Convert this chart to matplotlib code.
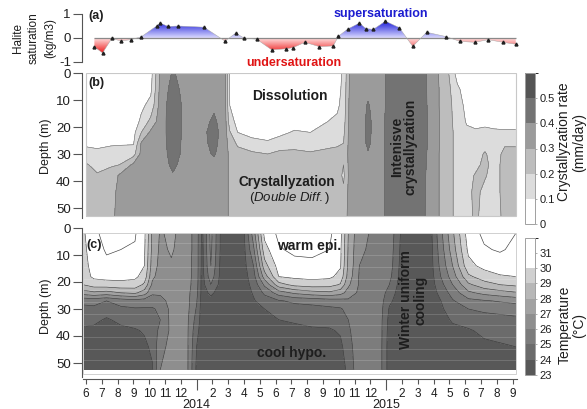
import numpy as np
import matplotlib
matplotlib.use("Agg")
import matplotlib.pyplot as plt
from matplotlib.colors import ListedColormap, BoundaryNorm
from matplotlib.path import Path
from matplotlib.patches import Rectangle

plt.rcParams['font.family'] = ['Liberation Sans', 'DejaVu Sans']
plt.rcParams['mathtext.fontset'] = 'custom'
plt.rcParams['mathtext.it'] = 'Liberation Sans:italic'
plt.rcParams['mathtext.rm'] = 'Liberation Sans'

# ---------------- data (month index: 0 = June 2013) ----------------
sat_month = [0.53, 1.05, 1.63, 2.2, 2.83, 3.5, 4.47, 4.7, 5.2, 5.84, 7.47, 8.8, 9.47,
             10.0, 10.8, 11.75, 12.66, 13.1, 13.86, 14.77, 15.65, 15.97, 16.56, 17.3,
             17.72, 18.19, 18.95, 19.83, 20.68, 21.56, 22.77, 23.67, 24.6, 25.46, 26.4, 27.2]
sat_value = [-0.37, -0.62, -0.02, -0.12, -0.07, 0.05, 0.5, 0.62, 0.48, 0.5, 0.45, -0.13, 0.2,
             0.0, -0.05, -0.49, -0.45, -0.4, -0.18, -0.36, -0.33, 0.07, 0.37, 0.62,
             0.39, 0.36, 0.7, 0.43, -0.35, 0.24, 0.06, -0.14, -0.18, -0.07, -0.18, -0.26]

# crystallization rate (mm/day): one profile per time
b_depth = [0, 6, 12, 18, 22, 26, 30, 34, 38, 44, 53]
b_month = [0.0, 0.7, 1.6, 2.1, 3.0, 3.5, 4.1, 4.7, 5.5, 6.4, 7.2, 8.1, 8.8, 9.1, 9.6,
           10.5, 11.5, 12.3, 13.2, 14.2, 15.3, 15.9, 16.3, 16.7, 17.4, 17.85, 18.3, 18.8,
           19.2, 20.3, 21.2, 21.8, 22.8, 23.5, 24.1, 24.65, 25.25, 25.8, 26.5, 27.2]
b_rate = [
    [0.02, 0.02, 0.03, 0.04, 0.05, 0.08, 0.14, 0.21, 0.24, 0.25, 0.25],
    [0.02, 0.02, 0.03, 0.04, 0.05, 0.08, 0.12, 0.17, 0.21, 0.25, 0.25],
    [0.02, 0.02, 0.03, 0.04, 0.05, 0.09, 0.13, 0.19, 0.24, 0.26, 0.27],
    [0.02, 0.02, 0.03, 0.04, 0.06, 0.09, 0.14, 0.20, 0.31, 0.33, 0.34],
    [0.03, 0.03, 0.04, 0.05, 0.07, 0.09, 0.16, 0.32, 0.34, 0.35, 0.35],
    [0.04, 0.05, 0.08, 0.12, 0.20, 0.31, 0.33, 0.34, 0.35, 0.35, 0.35],
    [0.06, 0.08, 0.13, 0.23, 0.32, 0.34, 0.35, 0.35, 0.35, 0.35, 0.35],
    [0.32, 0.33, 0.34, 0.35, 0.35, 0.35, 0.35, 0.35, 0.35, 0.35, 0.35],
    [0.41, 0.44, 0.46, 0.46, 0.46, 0.45, 0.44, 0.42, 0.39, 0.36, 0.35],
    [0.35, 0.35, 0.36, 0.36, 0.36, 0.36, 0.36, 0.35, 0.35, 0.35, 0.35],
    [0.34, 0.35, 0.35, 0.35, 0.36, 0.36, 0.36, 0.35, 0.35, 0.35, 0.35],
    [0.35, 0.36, 0.38, 0.42, 0.44, 0.43, 0.41, 0.37, 0.36, 0.35, 0.35],
    [0.33, 0.33, 0.33, 0.34, 0.34, 0.34, 0.34, 0.34, 0.34, 0.34, 0.34],
    [0.08, 0.09, 0.10, 0.14, 0.21, 0.26, 0.28, 0.28, 0.28, 0.28, 0.28],
    [0.03, 0.04, 0.05, 0.07, 0.10, 0.18, 0.24, 0.25, 0.26, 0.26, 0.26],
    [0.03, 0.03, 0.04, 0.05, 0.07, 0.13, 0.22, 0.24, 0.25, 0.26, 0.26],
    [0.03, 0.03, 0.04, 0.05, 0.07, 0.11, 0.20, 0.23, 0.24, 0.25, 0.25],
    [0.03, 0.03, 0.04, 0.05, 0.08, 0.14, 0.23, 0.24, 0.25, 0.25, 0.25],
    [0.03, 0.03, 0.04, 0.06, 0.11, 0.17, 0.22, 0.24, 0.25, 0.25, 0.25],
    [0.03, 0.03, 0.04, 0.07, 0.10, 0.16, 0.21, 0.24, 0.25, 0.25, 0.25],
    [0.03, 0.03, 0.05, 0.10, 0.14, 0.18, 0.22, 0.24, 0.25, 0.25, 0.25],
    [0.05, 0.06, 0.08, 0.12, 0.16, 0.19, 0.22, 0.24, 0.25, 0.25, 0.25],
    [0.12, 0.13, 0.14, 0.16, 0.18, 0.20, 0.22, 0.20, 0.18, 0.22, 0.25],
    [0.31, 0.32, 0.33, 0.33, 0.34, 0.34, 0.34, 0.34, 0.34, 0.34, 0.34],
    [0.35, 0.35, 0.35, 0.35, 0.35, 0.35, 0.35, 0.35, 0.35, 0.35, 0.35],
    [0.35, 0.37, 0.41, 0.43, 0.43, 0.42, 0.39, 0.36, 0.35, 0.35, 0.35],
    [0.36, 0.36, 0.36, 0.36, 0.36, 0.36, 0.36, 0.36, 0.36, 0.36, 0.36],
    [0.37, 0.37, 0.37, 0.38, 0.38, 0.38, 0.38, 0.38, 0.38, 0.38, 0.38],
    [0.45, 0.45, 0.45, 0.46, 0.46, 0.46, 0.46, 0.46, 0.46, 0.46, 0.46],
    [0.48, 0.48, 0.48, 0.48, 0.48, 0.48, 0.48, 0.48, 0.48, 0.48, 0.47],
    [0.46, 0.46, 0.47, 0.47, 0.47, 0.47, 0.46, 0.45, 0.44, 0.44, 0.43],
    [0.36, 0.36, 0.36, 0.37, 0.37, 0.37, 0.36, 0.36, 0.36, 0.36, 0.36],
    [0.24, 0.25, 0.25, 0.25, 0.25, 0.25, 0.25, 0.25, 0.25, 0.25, 0.25],
    [0.06, 0.12, 0.15, 0.16, 0.17, 0.17, 0.17, 0.17, 0.17, 0.17, 0.17],
    [0.04, 0.05, 0.07, 0.09, 0.12, 0.14, 0.15, 0.16, 0.16, 0.16, 0.16],
    [0.03, 0.04, 0.06, 0.08, 0.11, 0.15, 0.16, 0.17, 0.21, 0.23, 0.22],
    [0.03, 0.04, 0.06, 0.08, 0.12, 0.16, 0.21, 0.23, 0.21, 0.17, 0.16],
    [0.03, 0.04, 0.06, 0.08, 0.11, 0.15, 0.16, 0.16, 0.16, 0.16, 0.16],
    [0.03, 0.04, 0.05, 0.07, 0.11, 0.19, 0.22, 0.23, 0.23, 0.23, 0.22],
    [0.03, 0.04, 0.05, 0.07, 0.11, 0.19, 0.22, 0.23, 0.23, 0.23, 0.22],
]

# temperature (deg C): one profile per time
c_depth = [2, 8, 14, 18, 21, 24, 27, 30, 34, 38, 44, 52.5]
c_month = [-0.2, 0.5, 1.3, 2.2, 3.1, 3.7, 4.2, 4.7, 5.4, 6.4, 7.0, 7.35, 7.9, 8.6, 10.0,
           10.6, 11.3, 12.2, 13.2, 14.3, 15.4, 16.1, 16.6, 17.3, 18.5, 19.2, 19.9, 21.8,
           22.3, 23.2, 24.2, 25.2, 26.2, 27.2]
c_temp = [
    [29.8, 29.7, 29.6, 29.5, 29.0, 27.5, 25.2, 24.8, 24.3, 23.8, 23.6, 23.5],
    [30.8, 30.6, 30.4, 30.2, 29.5, 27.8, 25.3, 24.8, 24.2, 23.8, 23.6, 23.5],
    [31.3, 31.1, 30.8, 30.3, 29.6, 27.6, 25.0, 24.4, 23.9, 23.7, 23.6, 23.5],
    [31.3, 31.0, 30.9, 30.3, 29.7, 28.0, 25.4, 24.8, 24.2, 23.8, 23.6, 23.5],
    [31.1, 30.9, 30.6, 30.2, 29.6, 28.2, 25.6, 24.9, 24.4, 23.9, 23.6, 23.5],
    [30.2, 30.1, 30.0, 29.6, 28.8, 27.5, 25.5, 24.9, 24.5, 24.1, 23.8, 23.6],
    [27.8, 27.7, 27.5, 27.2, 26.8, 26.2, 25.4, 24.9, 24.6, 24.4, 24.2, 23.9],
    [26.9, 26.8, 26.7, 26.6, 26.5, 26.2, 25.6, 25.2, 25.0, 25.3, 25.8, 26.0],
    [27.2, 27.1, 26.9, 26.7, 26.6, 26.5, 26.4, 26.3, 26.3, 26.2, 26.2, 26.2],
    [26.5, 26.5, 26.4, 26.4, 26.4, 26.3, 26.3, 26.3, 26.2, 26.2, 26.2, 26.2],
    [25.5, 25.5, 25.5, 25.5, 25.4, 25.3, 25.1, 24.9, 24.6, 24.3, 24.0, 23.8],
    [23.8, 23.7, 23.7, 23.6, 23.6, 23.6, 23.5, 23.5, 23.5, 23.5, 23.5, 23.5],
    [26.3, 26.2, 26.0, 25.6, 25.0, 24.2, 23.7, 23.5, 23.5, 23.5, 23.5, 23.5],
    [23.6, 23.6, 23.5, 23.5, 23.5, 23.5, 23.5, 23.5, 23.5, 23.5, 23.5, 23.5],
    [23.9, 23.8, 23.7, 23.6, 23.6, 23.5, 23.5, 23.5, 23.5, 23.5, 23.5, 23.5],
    [26.5, 25.8, 25.0, 24.6, 24.3, 24.1, 23.9, 23.7, 23.6, 23.5, 23.5, 23.5],
    [30.3, 29.6, 28.6, 27.5, 26.2, 25.2, 24.5, 24.0, 23.8, 23.6, 23.5, 23.5],
    [31.2, 30.9, 30.4, 30.0, 28.6, 26.5, 24.9, 24.4, 24.0, 23.8, 23.6, 23.5],
    [31.5, 31.2, 30.7, 30.2, 29.3, 27.2, 25.2, 24.6, 24.1, 23.8, 23.6, 23.5],
    [31.4, 31.2, 30.8, 30.3, 29.5, 27.6, 25.3, 24.7, 24.2, 23.9, 23.6, 23.5],
    [31.2, 31.0, 30.7, 30.2, 29.4, 27.8, 25.5, 24.8, 24.3, 23.9, 23.6, 23.5],
    [30.3, 30.2, 30.1, 29.7, 28.9, 27.4, 25.6, 24.9, 24.5, 24.1, 23.8, 23.6],
    [28.0, 27.9, 27.8, 27.6, 27.2, 26.6, 25.8, 25.3, 25.0, 24.8, 24.5, 24.2],
    [26.2, 26.1, 26.0, 25.9, 25.9, 25.8, 25.8, 25.8, 25.8, 25.8, 25.8, 25.8],
    [25.8, 25.8, 25.8, 25.8, 25.7, 25.7, 25.7, 25.7, 25.7, 25.7, 25.7, 25.7],
    [25.7, 25.6, 25.5, 25.3, 25.0, 24.6, 24.2, 23.9, 23.7, 23.6, 23.5, 23.5],
    [24.0, 23.9, 23.8, 23.7, 23.6, 23.5, 23.5, 23.5, 23.5, 23.5, 23.5, 23.5],
    [23.7, 23.6, 23.6, 23.5, 23.5, 23.5, 23.5, 23.5, 23.5, 23.5, 23.5, 23.5],
    [25.3, 25.1, 24.9, 24.7, 24.4, 24.1, 23.8, 23.7, 23.6, 23.5, 23.5, 23.5],
    [27.8, 27.5, 27.0, 26.5, 26.0, 25.4, 24.9, 24.5, 24.1, 23.8, 23.6, 23.5],
    [30.5, 30.2, 29.7, 28.8, 27.8, 26.8, 25.7, 25.0, 24.4, 23.9, 23.7, 23.5],
    [31.2, 30.9, 30.3, 29.5, 28.6, 27.3, 25.9, 25.2, 24.6, 24.2, 23.8, 23.6],
    [31.4, 31.1, 30.5, 29.9, 29.0, 27.6, 26.1, 25.3, 24.7, 24.3, 23.9, 23.6],
    [31.0, 30.8, 30.4, 30.0, 29.2, 27.9, 26.3, 25.4, 24.8, 24.4, 24.0, 23.7],
]

rate_levels = [0, 0.1, 0.2, 0.3, 0.4, 0.5, 0.6]
rate_ticks = [0, 0.1, 0.2, 0.3, 0.4, 0.5]
temp_levels = [23, 24, 25, 26, 27, 28, 29, 30, 31, 32]
temp_ticks = [23, 24, 25, 26, 27, 28, 29, 30, 31]
month_ticks = list(range(0, 28))
month_labels = ['6', '7', '8', '9', '10', '11', '12', '', '2', '3', '4', '5', '6', '7',
                '8', '9', '10', '11', '12', '', '2', '3', '4', '5', '6', '7', '8', '9']
year_pos = [7, 19]
year_labels = ['2014', '2015']
depth_ticks = [0, 10, 20, 30, 40, 50]

# ---------------- layout ----------------
W, H = 587, 409
fig = plt.figure(figsize=(W / 100, H / 100), dpi=100)


def box(x0, y0, x1, y1):
    return [x0 / W, 1 - y1 / H, (x1 - x0) / W, (y1 - y0) / H]


def fx(x):
    return x / W


def fy(y):
    return 1 - y / H


X0_PX, PPM = 86.0, 15.8
XLIM = ((82 - X0_PX) / PPM, (519 - X0_PX) / PPM)
TXT = '#1e1e1e'
SP = '#555555'


def style_left(ax):
    for s in ['top', 'right', 'bottom']:
        ax.spines[s].set_visible(False)
    ax.spines['left'].set_color(SP)
    ax.spines['left'].set_linewidth(0.8)
    ax.tick_params(axis='y', direction='out', length=6.5, width=0.8, color=SP,
                   labelsize=9.5, pad=1.5, labelcolor=TXT)
    ax.tick_params(axis='x', bottom=False, labelbottom=False)
    ax.set_facecolor('none')


# ---- panel a ----
axa = fig.add_axes(box(82, 14, 519, 62))
style_left(axa)
ny = 300
yy = np.linspace(1, -1, ny)
img = np.ones((ny, 2, 4))
blue_deep = np.array([0.12, 0.12, 0.85])
blue_light = np.array([0.86, 0.86, 1.0])
red_deep = np.array([0.93, 0.08, 0.08])
red_light = np.array([1.0, 0.88, 0.88])
for i, yv in enumerate(yy):
    if yv >= 0:
        t = min(yv / 0.7, 1.0)
        img[i, :, :3] = blue_light + (blue_deep - blue_light) * t
    else:
        t = min(-yv / 0.65, 1.0)
        img[i, :, :3] = red_light + (red_deep - red_light) * t
im = axa.imshow(img, extent=[XLIM[0], XLIM[1], -1, 1], aspect='auto',
                interpolation='bilinear', zorder=1)
verts = [(sat_month[0], 0)] + list(zip(sat_month, sat_value)) + \
        [(sat_month[-1], 0), (sat_month[0], 0)]
im.set_clip_path(Path(verts, closed=True), transform=axa.transData)
axa.hlines(0, sat_month[0], sat_month[-1], color='#8a8a8a', lw=0.9, zorder=2)
axa.plot(sat_month, sat_value, color='#a8a8a8', lw=0.35, zorder=2)
axa.plot(sat_month, sat_value, ls='none', marker='^', ms=2.1, color='#202020', zorder=3)
axa.set_xlim(*XLIM)
axa.set_ylim(-1, 1)
axa.set_yticks([-1, 0, 1])
axa.set_yticklabels(['-1', '0', '1'])

# ---- panel b ----
axb = fig.add_axes(box(82, 73, 519, 218))
style_left(axb)
cmap_b = ListedColormap(['#ffffff', '#dcdcdc', '#bdbdbd', '#9b9b9b', '#737373', '#555555'])
norm_b = BoundaryNorm(rate_levels, cmap_b.N)
Xb, Yb = np.meshgrid(b_month, b_depth)
Zb = np.array(b_rate).T
cfb = axb.contourf(Xb, Yb, Zb, levels=rate_levels, cmap=cmap_b, norm=norm_b)
axb.contour(Xb, Yb, Zb, levels=rate_levels[1:-1], colors='#6a6a6a', linewidths=0.4)
axb.add_patch(Rectangle((b_month[0], 0), b_month[-1] - b_month[0], b_depth[-1],
                        fill=False, ec='#c8c8c8', lw=0.8, zorder=5))
axb.set_xlim(*XLIM)
axb.set_ylim(53.7, 0)
axb.set_yticks(depth_ticks)

# ---- panel c ----
axc = fig.add_axes(box(82, 228, 519, 376.5))
style_left(axc)
cmap_c = ListedColormap(['#585858', '#6b6b6b', '#7c7c7c', '#8e8e8e', '#a2a2a2',
                         '#b7b7b7', '#d0d0d0', '#ffffff', '#ffffff'])
norm_c = BoundaryNorm(temp_levels, cmap_c.N)
Xc, Yc = np.meshgrid(c_month, c_depth)
Zc = np.array(c_temp).T
cfc = axc.contourf(Xc, Yc, Zc, levels=temp_levels, cmap=cmap_c, norm=norm_c)
axc.contour(Xc, Yc, Zc, levels=temp_levels[1:-1], colors='#3a3a3a', linewidths=0.45)
axc.hlines(np.arange(1.4, 52, 4.33), c_month[0], c_month[-1], color='white',
           lw=0.5, alpha=0.22, zorder=4)
axc.add_patch(Rectangle((c_month[0], c_depth[0]), c_month[-1] - c_month[0], 54 - c_depth[0],
                        fill=False, ec='#d0d0d0', lw=0.7, zorder=5))
axc.set_xlim(*XLIM)
axc.set_ylim(55, 0)
axc.set_yticks(depth_ticks)

# x axis (months)
axc.spines['bottom'].set_visible(True)
axc.spines['bottom'].set_color(SP)
axc.spines['bottom'].set_linewidth(0.8)
axc.spines['bottom'].set_position(('outward', 1.8))
axc.spines['bottom'].set_bounds(-0.2, 27.3)
maj = [m for m, l in zip(month_ticks, month_labels) if l != '']
maj_l = [l for l in month_labels if l != '']
axc.set_xticks(maj)
axc.set_xticklabels(maj_l)
axc.set_xticks(year_pos, minor=True)
axc.tick_params(axis='x', which='major', bottom=True, labelbottom=True, direction='out',
                length=3.6, width=0.8, color=SP, labelsize=8.5, pad=2.8, labelcolor=TXT)
axc.tick_params(axis='x', which='minor', bottom=True, direction='out', length=8,
                width=0.8, color=SP)
for xp, yl in zip(year_pos, year_labels):
    fig.text(fx(X0_PX + PPM * xp), fy(404.5), yl, ha='center', va='center',
             fontsize=9, color=TXT)

# ---- colorbars ----
caxb = fig.add_axes(box(525, 73, 535, 224))
cbb = fig.colorbar(cfb, cax=caxb, ticks=rate_ticks)
cbb.ax.set_yticklabels([str(t) for t in rate_ticks])
caxc = fig.add_axes(box(525, 237.7, 535, 375))
cbc = fig.colorbar(cfc, cax=caxc, ticks=temp_ticks)
for cb in (cbb, cbc):
    cb.outline.set_edgecolor('#a0a0a0')
    cb.outline.set_linewidth(0.7)
    cb.ax.tick_params(length=1.5, width=0.6, color='#a0a0a0', labelsize=8, pad=2,
                      labelcolor=TXT)

fig.text(fx(572), fy(142), 'Crystallyzation rate\n(mm/day)', rotation=90, ha='center',
         va='center', fontsize=10, color=TXT, linespacing=1.1)
fig.text(fx(572), fy(325), 'Temperature\n(°C)', rotation=90, ha='center',
         va='center', fontsize=10, color=TXT, linespacing=1.1)

# ---- axis labels ----
fig.text(fx(34), fy(38), 'Halite\nsaturation\n(kg/m3)', rotation=90, ha='center',
         va='center', fontsize=8.5, color=TXT, linespacing=1.45)
fig.text(fx(46), fy(146), 'Depth (m)', rotation=90, ha='center', va='center',
         fontsize=9, color=TXT)
fig.text(fx(46), fy(306), 'Depth (m)', rotation=90, ha='center', va='center',
         fontsize=9, color=TXT)

# ---- annotations ----
fig.text(fx(88), fy(16), '(a)', ha='left', va='center', fontsize=9, fontweight='bold', color=TXT)
fig.text(fx(381), fy(14), 'supersaturation', ha='center', va='center', fontsize=9,
         fontweight='bold', color='#1c1cd0')
fig.text(fx(294), fy(63), 'undersaturation', ha='center', va='center', fontsize=9,
         fontweight='bold', color='#e01414')
fig.text(fx(88), fy(83), '(b)', ha='left', va='center', fontsize=9, fontweight='bold', color=TXT)
fig.text(fx(290), fy(96), 'Dissolution', ha='center', va='center', fontsize=10,
         fontweight='bold', color=TXT)
fig.text(fx(287), fy(182), 'Crystallyzation', ha='center', va='center', fontsize=9.8,
         fontweight='bold', color=TXT)
fig.text(fx(290), fy(198), r'($\mathit{Double\ Diff.}$)', ha='center', va='center',
         fontsize=9.5, color=TXT)
fig.text(fx(404), fy(147), 'Intenisve\ncrystallyzation', rotation=90, ha='center',
         va='center', fontsize=10, fontweight='bold', color=TXT, linespacing=1.0)
fig.text(fx(86), fy(245), '(c)', ha='left', va='center', fontsize=9, fontweight='bold', color=TXT)
fig.text(fx(309), fy(246), 'warm epi.', ha='center', va='center', fontsize=10,
         fontweight='bold', color=TXT)
fig.text(fx(292), fy(353), 'cool hypo.', ha='center', va='center', fontsize=10,
         fontweight='bold', color=TXT)
fig.text(fx(413), fy(300), 'Winter uniform\ncooling', rotation=90, ha='center',
         va='center', fontsize=10, fontweight='bold', color=TXT, linespacing=1.0)

fig.savefig('out.png', dpi=100)
